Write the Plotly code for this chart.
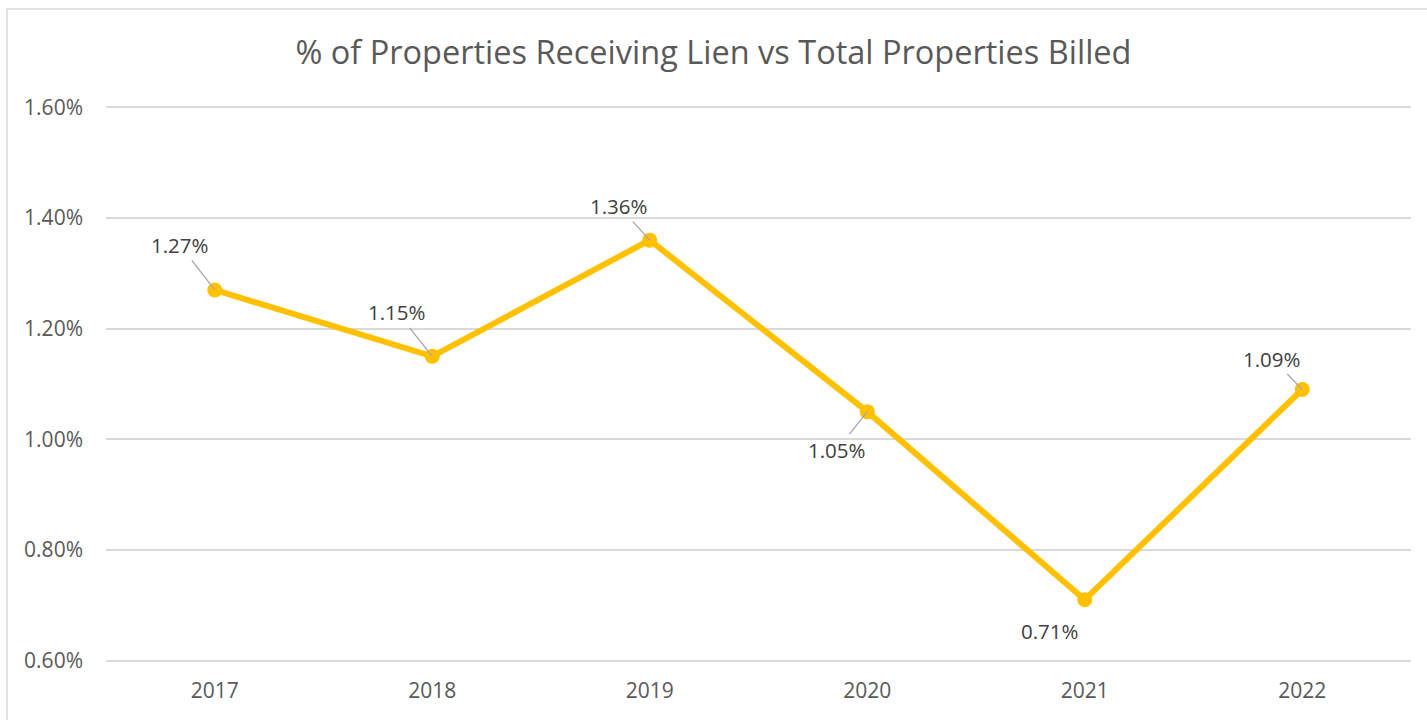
import plotly.graph_objects as go

years = ["2017", "2018", "2019", "2020", "2021", "2022"]
lien_pct = [0.0127, 0.0115, 0.0136, 0.0105, 0.0071, 0.0109]
label_text = ["1.27%", "1.15%", "1.36%", "1.05%", "0.71%", "1.09%"]
# label offsets (pixels) relative to point, and whether a leader line is drawn
label_dx = [-35, -35, -31, -30, -35, -30]
label_dy = [-45, -44, -34, 38, 31, -31]
label_leader = [True, True, True, True, False, True]

FONT = "Open Sans"
LINE_COLOR = "#FFC000"

fig = go.Figure()
fig.add_trace(go.Scatter(
    x=years, y=lien_pct, mode="lines+markers",
    line=dict(color=LINE_COLOR, width=6),
    marker=dict(color=LINE_COLOR, size=15),
    hoverinfo="x+y", showlegend=False,
))

for i, (y, t, dx, dy, lead) in enumerate(zip(lien_pct, label_text, label_dx, label_dy, label_leader)):
    if lead:
        fig.add_annotation(
            x=i, y=y, xref="x", yref="y", text=t, showarrow=True,
            ax=dx, ay=dy, axref="pixel", ayref="pixel",
            arrowhead=0, arrowwidth=1.3, arrowcolor="#a6a6a6",
            font=dict(family=FONT, size=20.5, color="#404040"),
        )
    else:
        fig.add_annotation(
            x=i, y=y, xref="x", yref="y", text=t, showarrow=False,
            xshift=dx, yshift=-dy,
            font=dict(family=FONT, size=20.5, color="#404040"),
        )

fig.update_layout(
    width=1427, height=720,
    margin=dict(l=106, r=16, t=106, b=58),
    paper_bgcolor="white", plot_bgcolor="white",
    title=dict(
        text="% of Properties Receiving Lien vs Total Properties Billed",
        x=0.5, xanchor="center", y=1 - 53 / 720, yanchor="middle",
        font=dict(family=FONT, size=32.5, color="#595959"),
    ),
    font=dict(family=FONT, color="#595959"),
    shapes=[dict(
        type="rect", xref="paper", yref="paper",
        x0=(7 - 106) / 1305, x1=1.2, y0=-0.3, y1=(662 - 9) / 556,
        line=dict(color="#d9d9d9", width=1.5), fillcolor="rgba(0,0,0,0)",
        layer="below",
    )],
)

fig.update_xaxes(
    type="category", range=[-0.5, 5.5],
    showgrid=False, showline=False, zeroline=False, ticks="",
    ticklabelstandoff=14,
    tickfont=dict(family=FONT, size=21, color="#595959"),
)
fig.update_yaxes(
    range=[0.005975, 0.016025], tickvals=[0.006, 0.008, 0.010, 0.012, 0.014, 0.016],
    tickformat=".2%",
    showgrid=True, gridcolor="#d9d9d9", gridwidth=1.5,
    zeroline=False, showline=False, ticks="",
    ticklabelstandoff=22,
    tickfont=dict(family=FONT, size=21, color="#595959"),
)

fig.write_html("out.html", config={"displayModeBar": False},
               post_script="document.body.style.margin='0';")
